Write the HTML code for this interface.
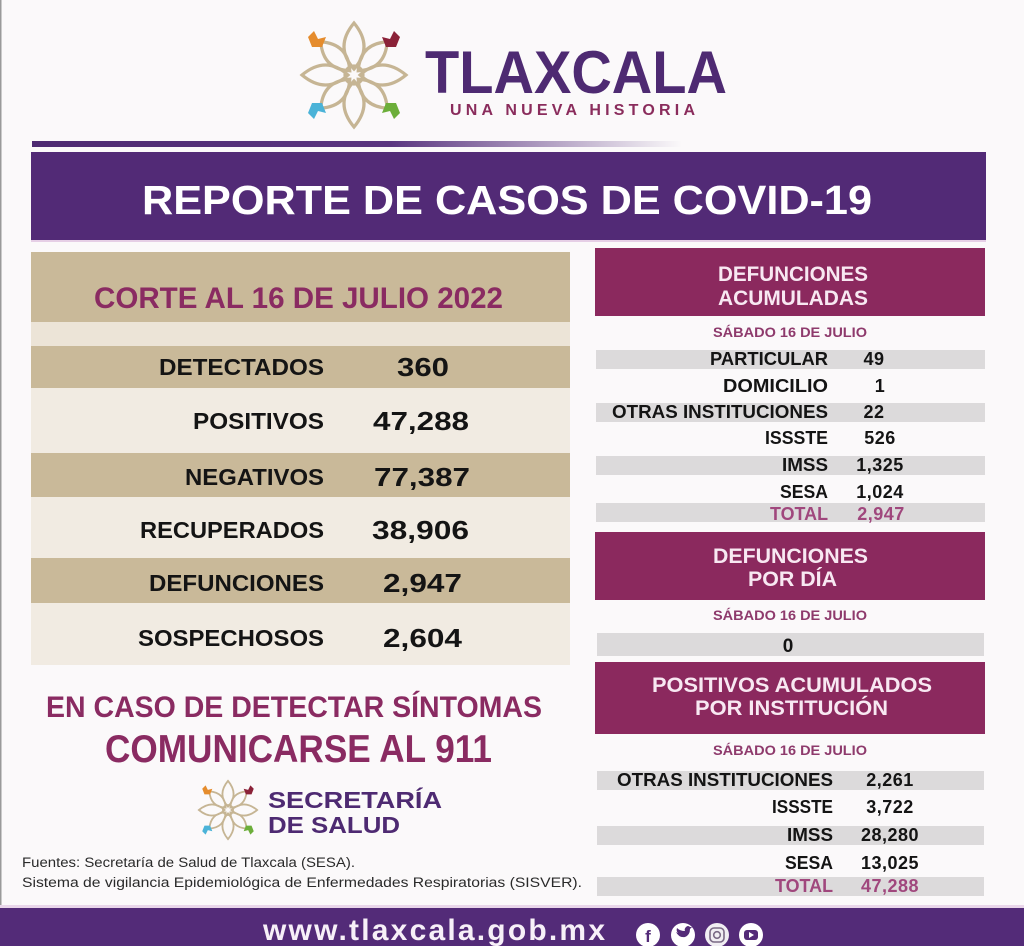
<!DOCTYPE html>
<html><head><meta charset="utf-8"><style>
html,body{margin:0;padding:0;background:#fbf9fa;}
svg{display:block;}
text{font-family:"Liberation Sans",Arial,sans-serif;font-weight:bold;}
</style></head><body>
<svg width="1024" height="946" viewBox="0 0 1024 946" xmlns="http://www.w3.org/2000/svg">
<defs>
<linearGradient id="gl" x1="0" x2="1" y1="0" y2="0">
<stop offset="0" stop-color="#4e2a72"/><stop offset="0.55" stop-color="#5a3580"/><stop offset="1" stop-color="#5a3580" stop-opacity="0"/>
</linearGradient>
<path id="petal" d="M0,-6 Q20,-28 0,-52 Q-20,-28 0,-6 Z"/>
<path id="petal2" d="M0,-6 Q18,-26 0,-47 Q-18,-26 0,-6 Z"/>
<g id="flower">
<g fill="none" stroke="#c6b594" stroke-width="3.2">
<use href="#petal"/>
<use href="#petal" transform="rotate(90)"/>
<use href="#petal" transform="rotate(180)"/>
<use href="#petal" transform="rotate(270)"/>
<use href="#petal2" transform="rotate(45)"/>
<use href="#petal2" transform="rotate(135)"/>
<use href="#petal2" transform="rotate(225)"/>
<use href="#petal2" transform="rotate(315)"/>
<circle r="9"/>
</g>
<g>
<path d="M-46,-38 l6,-6 l4,8 l8,-2 l-4,10 l-10,0 z" fill="#e58c2d"/>
<path d="M46,-38 l-6,-6 l-4,8 l-8,-2 l4,10 l10,0 z" fill="#8b2238"/>
<path d="M-46,38 l6,6 l4,-8 l8,2 l-4,-10 l-10,0 z" fill="#4bb3d8"/>
<path d="M46,38 l-6,6 l-4,-8 l-8,2 l4,-10 l10,0 z" fill="#6cae3a"/>
</g>
</g>
</defs>

<rect x="0" y="0" width="1024" height="946" fill="#fbf9fa"/>
<rect x="0" y="0" width="1.5" height="946" fill="#9a9a9a"/>

<!-- Header logo -->
<use href="#flower" transform="translate(354,75)"/>
<text x="425" y="93" font-size="60" fill="#4e2a72" textLength="302" lengthAdjust="spacingAndGlyphs">TLAXCALA</text>
<text x="450" y="115" font-size="16" fill="#8a2c5c" textLength="245" lengthAdjust="spacing">UNA NUEVA HISTORIA</text>

<!-- gradient line -->
<rect x="32" y="141" width="650" height="6" fill="url(#gl)"/>

<!-- Title banner -->
<rect x="31" y="152" width="955" height="88" fill="#522a76"/>
<rect x="31" y="240" width="955" height="2" fill="#e6cfe6"/>
<text x="142" y="214" font-size="41" fill="#ffffff" textLength="730" lengthAdjust="spacingAndGlyphs">REPORTE DE CASOS DE COVID-19</text>

<!-- Left panel -->
<rect x="31" y="252" width="539" height="413" fill="#f1ebe2"/>
<rect x="31" y="322" width="539" height="24" fill="#ece4d7"/>
<rect x="31" y="252" width="539" height="70" fill="#c9b999"/>
<rect x="31" y="346" width="539" height="42" fill="#c9b999"/>
<rect x="31" y="453" width="539" height="44" fill="#c9b999"/>
<rect x="31" y="558" width="539" height="45" fill="#c9b999"/>
<text x="94" y="308" font-size="30" fill="#8a2b62" textLength="409" lengthAdjust="spacingAndGlyphs">CORTE AL 16 DE JULIO 2022</text>

<g font-size="23" fill="#141414">
<text x="159" y="375" textLength="165" lengthAdjust="spacingAndGlyphs">DETECTADOS</text>
<text x="193" y="429" textLength="131" lengthAdjust="spacingAndGlyphs">POSITIVOS</text>
<text x="185" y="485" textLength="139" lengthAdjust="spacingAndGlyphs">NEGATIVOS</text>
<text x="140" y="538" textLength="184" lengthAdjust="spacingAndGlyphs">RECUPERADOS</text>
<text x="149" y="591" textLength="175" lengthAdjust="spacingAndGlyphs">DEFUNCIONES</text>
<text x="138" y="646" textLength="186" lengthAdjust="spacingAndGlyphs">SOSPECHOSOS</text>
</g>
<g font-size="26" fill="#141414">
<text x="397" y="376" textLength="52" lengthAdjust="spacingAndGlyphs">360</text>
<text x="373" y="430" textLength="96" lengthAdjust="spacingAndGlyphs">47,288</text>
<text x="374" y="486" textLength="96" lengthAdjust="spacingAndGlyphs">77,387</text>
<text x="372" y="539" textLength="97" lengthAdjust="spacingAndGlyphs">38,906</text>
<text x="383" y="592" textLength="79" lengthAdjust="spacingAndGlyphs">2,947</text>
<text x="383" y="647" textLength="79" lengthAdjust="spacingAndGlyphs">2,604</text>
</g>

<!-- Right panel 1 -->
<rect x="595" y="248" width="390" height="68" fill="#8b295e"/>
<text x="718" y="281" font-size="21" fill="#f8e8f2" textLength="150" lengthAdjust="spacingAndGlyphs">DEFUNCIONES</text>
<text x="718" y="305" font-size="21" fill="#f8e8f2" textLength="150" lengthAdjust="spacingAndGlyphs">ACUMULADAS</text>
<text x="713" y="337" font-size="14" fill="#8e3a6c" textLength="154" lengthAdjust="spacingAndGlyphs">SÁBADO 16 DE JULIO</text>
<rect x="596" y="350" width="389" height="19" fill="#dcdadb"/>
<rect x="596" y="403" width="389" height="19" fill="#dcdadb"/>
<rect x="596" y="456" width="389" height="19" fill="#dcdadb"/>
<rect x="596" y="503" width="389" height="19" fill="#dcdadb"/>
<g font-size="18" fill="#141414">
<text x="710" y="365" textLength="118" lengthAdjust="spacingAndGlyphs">PARTICULAR</text>
<text x="723" y="392" textLength="105" lengthAdjust="spacingAndGlyphs">DOMICILIO</text>
<text x="612" y="418" textLength="216" lengthAdjust="spacingAndGlyphs">OTRAS INSTITUCIONES</text>
<text x="765" y="444" textLength="63" lengthAdjust="spacingAndGlyphs">ISSSTE</text>
<text x="782" y="471" textLength="46" lengthAdjust="spacingAndGlyphs">IMSS</text>
<text x="780" y="498" textLength="48" lengthAdjust="spacingAndGlyphs">SESA</text>
</g>
<text x="770" y="520" font-size="18" fill="#a0477d" textLength="58" lengthAdjust="spacingAndGlyphs">TOTAL</text>
<g font-size="18" fill="#141414" text-anchor="middle" letter-spacing="0.5">
<text x="874" y="365">49</text>
<text x="880" y="392">1</text>
<text x="874" y="418">22</text>
<text x="880" y="444">526</text>
<text x="880" y="471">1,325</text>
<text x="880" y="498">1,024</text>
</g>
<text x="881" y="520" font-size="18" fill="#a0477d" text-anchor="middle" letter-spacing="0.5">2,947</text>

<!-- Right panel 2 -->
<rect x="595" y="532" width="390" height="68" fill="#8b295e"/>
<text x="713" y="563" font-size="21" fill="#f8e8f2" textLength="155" lengthAdjust="spacingAndGlyphs">DEFUNCIONES</text>
<text x="748" y="586" font-size="21" fill="#f8e8f2" textLength="89" lengthAdjust="spacingAndGlyphs">POR DÍA</text>
<text x="713" y="620" font-size="14" fill="#8e3a6c" textLength="154" lengthAdjust="spacingAndGlyphs">SÁBADO 16 DE JULIO</text>
<rect x="597" y="633" width="387" height="23" fill="#dcdadb"/>
<text x="788" y="652" font-size="19" fill="#141414" text-anchor="middle">0</text>

<!-- Right panel 3 -->
<rect x="595" y="662" width="390" height="72" fill="#8b295e"/>
<text x="652" y="692" font-size="21" fill="#f8e8f2" textLength="280" lengthAdjust="spacingAndGlyphs">POSITIVOS ACUMULADOS</text>
<text x="695" y="715" font-size="21" fill="#f8e8f2" textLength="193" lengthAdjust="spacingAndGlyphs">POR INSTITUCIÓN</text>
<text x="713" y="755" font-size="14" fill="#8e3a6c" textLength="154" lengthAdjust="spacingAndGlyphs">SÁBADO 16 DE JULIO</text>
<rect x="597" y="771" width="387" height="19" fill="#dcdadb"/>
<rect x="597" y="826" width="387" height="19" fill="#dcdadb"/>
<rect x="597" y="877" width="387" height="19" fill="#dcdadb"/>
<g font-size="18" fill="#141414">
<text x="617" y="786" textLength="216" lengthAdjust="spacingAndGlyphs">OTRAS INSTITUCIONES</text>
<text x="772" y="813" textLength="61" lengthAdjust="spacingAndGlyphs">ISSSTE</text>
<text x="787" y="841" textLength="46" lengthAdjust="spacingAndGlyphs">IMSS</text>
<text x="785" y="869" textLength="48" lengthAdjust="spacingAndGlyphs">SESA</text>
</g>
<text x="775" y="892" font-size="18" fill="#a0477d" textLength="58" lengthAdjust="spacingAndGlyphs">TOTAL</text>
<g font-size="18" fill="#141414" text-anchor="middle" letter-spacing="0.5">
<text x="890" y="786">2,261</text>
<text x="890" y="813">3,722</text>
<text x="890" y="841">28,280</text>
<text x="890" y="869">13,025</text>
</g>
<text x="890" y="892" font-size="18" fill="#a0477d" text-anchor="middle" letter-spacing="0.5">47,288</text>

<!-- Bottom left -->
<text x="46" y="717" font-size="30" fill="#8a2b62" textLength="496" lengthAdjust="spacingAndGlyphs">EN CASO DE DETECTAR SÍNTOMAS</text>
<text x="105" y="762" font-size="39" fill="#8a2b62" textLength="387" lengthAdjust="spacingAndGlyphs">COMUNICARSE AL 911</text>
<use href="#flower" transform="translate(228,810) scale(0.56)"/>
<text x="268" y="808" font-size="23" fill="#4e2a72" textLength="174" lengthAdjust="spacingAndGlyphs">SECRETARÍA</text>
<text x="268" y="833" font-size="23" fill="#4e2a72" textLength="132" lengthAdjust="spacingAndGlyphs">DE SALUD</text>
<text x="22" y="867" font-size="13.5" style="font-weight:normal" fill="#2a2a2a" textLength="333" lengthAdjust="spacingAndGlyphs">Fuentes:  Secretaría de Salud de Tlaxcala (SESA).</text>
<text x="22" y="887" font-size="13.5" style="font-weight:normal" fill="#2a2a2a" textLength="560" lengthAdjust="spacingAndGlyphs">Sistema de vigilancia Epidemiológica de Enfermedades Respiratorias (SISVER).</text>

<!-- Bottom bar -->
<rect x="0" y="905" width="1024" height="3" fill="#e9d6ea"/>
<rect x="0" y="908" width="1024" height="38" fill="#532b78"/>
<text x="263" y="940" font-size="30" fill="#f7f0f8" textLength="342" lengthAdjust="spacing">www.tlaxcala.gob.mx</text>
<g>
<circle cx="648" cy="935" r="12" fill="#ffffff"/>
<text x="648" y="942" font-size="17" fill="#532b78" text-anchor="middle">f</text>
<circle cx="683" cy="935" r="12" fill="#ffffff"/>
<path d="M676,932 q3,6 9,5 q5,-2 5,-8 l2,-2 l-2,0 q-2,-2 -4,0 q-2,2 -1,4 q-5,0 -8,-3 q-1,3 1,5 z" fill="#532b78"/>
<circle cx="717" cy="935" r="12" fill="#f1eef3"/>
<rect x="710" y="928" width="14" height="14" rx="4" fill="none" stroke="#7a6a86" stroke-width="1.6"/>
<circle cx="717" cy="935" r="3.3" fill="none" stroke="#7a6a86" stroke-width="1.6"/>
<circle cx="751" cy="935" r="12" fill="#ffffff"/>
<rect x="744" y="930" width="14" height="10" rx="3" fill="#532b78"/>
<path d="M749,932 l5,3 l-5,3 z" fill="#ffffff"/>
</g>
</svg>
</body></html>
